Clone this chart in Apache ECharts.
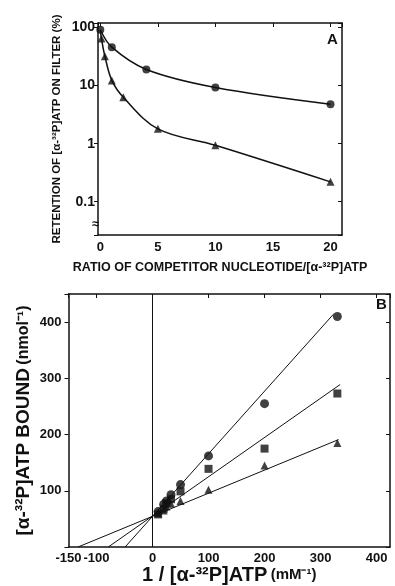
<!DOCTYPE html>
<html>
<head>
<meta charset="utf-8">
<script src="https://cdn.jsdelivr.net/npm/echarts@6/dist/echarts.min.js"></script>
<style>
  html, body { margin: 0; padding: 0; background: #fff; }
  #chart { width: 395px; height: 586px; }
</style>
</head>
<body>
<div id="chart"></div>
<script>
// panel A: retention vs competitor ratio (log scale)
const ratioCircle = [0, 1, 4, 10, 20];
const retentionCircle = [92, 46, 19, 9.3, 4.8];
const ratioTriangle = [0.1, 0.4, 1, 2, 5, 10, 20];
const retentionTriangle = [65, 32, 12.3, 6.3, 1.8, 0.94, 0.22];
const curveTriangleX = [0, 0.1, 0.4, 1, 2, 5, 10, 20];
const curveTriangleY = [90, 65, 32, 12.3, 6.3, 1.8, 0.94, 0.22];

// panel B: double reciprocal plot
const invAtp = [10, 20, 25, 33, 50, 100, 200, 330];
const boundCircle = [63, 76, 82, 93, 111, 162, 255, 410];
const boundSquare = [58, 68, 78, 85, 99, 139, 175, 273];
const boundTriangle = [60, 65, 72, 77, 82, 102, 145, 185];
const fitCircleX = [-49, 323], fitCircleY = [0, 414];
const fitSquareX = [-79, 335], fitSquareY = [0, 289];
const fitTriangleX = [-133, 332], fitTriangleY = [0, 191];

const zip = (xs, ys) => xs.map((x, i) => [x, ys[i]]);

const font = "'Liberation Sans', Arial, sans-serif";
const black = '#111';
const axisLine = { show: true, onZero: false, lineStyle: { color: black, width: 1.5 } };
const tickLabel = { color: black, fontFamily: font, fontWeight: 'bold', fontSize: 13, hideOverlap: false };
const innerTick = { show: true, inside: true, length: 4, lineStyle: { color: black } };
const outerTick = { show: true, length: 4, lineStyle: { color: black } };

const chart = echarts.init(document.getElementById('chart'), null, { renderer: 'canvas' });

chart.setOption({
  backgroundColor: '#fff',
  animation: false,
  title: [
    { text: 'A', left: 322, top: 27, textStyle: { fontFamily: font, fontWeight: 'bold', fontSize: 15, color: black } },
    { text: 'B', left: 371, top: 292, textStyle: { fontFamily: font, fontWeight: 'bold', fontSize: 15, color: black } },
  ],
  grid: [
    { left: 98, top: 23, width: 244, height: 212 },
    { left: 68.5, top: 294, width: 321.5, height: 253 },
  ],
  xAxis: [
    {
      gridIndex: 0, type: 'value', min: -0.2, max: 21,
      axisLine, axisTick: { show: false }, splitLine: { show: false },
      axisLabel: { ...tickLabel, margin: 6, formatter: v => (Math.abs(v % 5) < 1e-6 ? String(v) : '') },
      name: 'RATIO OF COMPETITOR NUCLEOTIDE/[α-³²P]ATP',
      nameLocation: 'middle', nameGap: 26, nameMoveOverlap: false,
      nameTextStyle: { color: black, fontFamily: font, fontWeight: 'bold', fontSize: 12.5 },
    },
    {
      gridIndex: 0, type: 'value', min: -0.2, max: 21, position: 'top',
      axisLine, axisTick: innerTick, axisLabel: { show: false }, splitLine: { show: false },
    },
    {
      gridIndex: 1, type: 'value', min: -150, max: 424,
      axisLine, axisTick: { show: false }, splitLine: { show: false },
      axisLabel: { ...tickLabel, margin: 5, showMinLabel: true, showMaxLabel: false,
        formatter: v => (v % 50 === 0 ? String(v) : '') },
      name: '{a|1 / [α-³²P]ATP} {b|(mM⁻¹)}',
      nameLocation: 'middle', nameGap: 18, nameMoveOverlap: false,
      nameTextStyle: {
        color: black,
        rich: {
          a: { fontFamily: font, fontWeight: 'bold', fontSize: 20, color: black },
          b: { fontFamily: font, fontWeight: 'bold', fontSize: 15, color: black },
        },
      },
    },
    {
      gridIndex: 1, type: 'value', min: -150, max: 424, position: 'top',
      axisLine, axisTick: innerTick, axisLabel: { show: false }, splitLine: { show: false },
    },
  ],
  yAxis: [
    {
      gridIndex: 0, type: 'log', logBase: 10, min: 0.0267, max: 120,
      axisLine, axisTick: outerTick, splitLine: { show: false },
      axisLabel: {
        ...tickLabel, fontSize: 14, margin: 3,
        formatter: v => {
          const p = Math.log10(v);
          return Math.abs(p - Math.round(p)) < 1e-6 ? String(Math.pow(10, Math.round(p))) : '';
        },
      },
      name: 'RETENTION OF [α-³²P]ATP ON FILTER (%)',
      nameLocation: 'middle', nameGap: 35, nameMoveOverlap: false,
      nameTextStyle: { color: black, fontFamily: font, fontWeight: 'bold', fontSize: 11.5 },
    },
    {
      gridIndex: 0, type: 'log', logBase: 10, min: 0.0267, max: 120, position: 'right',
      axisLine, axisTick: innerTick, axisLabel: { show: false }, splitLine: { show: false },
    },
    {
      gridIndex: 1, type: 'value', min: 0, max: 450,
      axisLine, axisTick: outerTick, splitLine: { show: false },
      axisLabel: { ...tickLabel, margin: 7, formatter: v => (v > 0 && v % 100 === 0 ? String(v) : '') },
      name: '{a|[α-³²P]ATP BOUND} {b|(nmol⁻¹)}',
      nameLocation: 'middle', nameGap: 35, nameMoveOverlap: false,
      nameTextStyle: {
        color: black,
        rich: {
          a: { fontFamily: font, fontWeight: 'bold', fontSize: 19, color: black },
          b: { fontFamily: font, fontWeight: 'bold', fontSize: 16, color: black },
        },
      },
    },
    {
      gridIndex: 1, type: 'value', min: 0, max: 450, position: 'right',
      axisLine, axisTick: innerTick, axisLabel: { show: false }, splitLine: { show: false },
    },
  ],
  graphic: [
    { type: 'text', left: 92, top: 218, style: { text: '≈', fontSize: 13, fontWeight: 'bold', fill: black } },
  ],
  series: [
    {
      type: 'line', xAxisIndex: 0, yAxisIndex: 0, data: zip(ratioCircle, retentionCircle),
      smooth: 0.35, showSymbol: false, lineStyle: { color: black, width: 1.5 },
    },
    {
      type: 'line', xAxisIndex: 0, yAxisIndex: 0, data: zip(curveTriangleX, curveTriangleY),
      smooth: 0.35, showSymbol: false, lineStyle: { color: black, width: 1.5 },
    },
    {
      type: 'scatter', xAxisIndex: 0, yAxisIndex: 0, data: zip(ratioCircle, retentionCircle),
      symbol: 'circle', symbolSize: 8, itemStyle: { color: black },
    },
    {
      type: 'scatter', xAxisIndex: 0, yAxisIndex: 0, data: zip(ratioTriangle, retentionTriangle),
      symbol: 'triangle', symbolSize: 8, itemStyle: { color: black },
    },
    {
      type: 'line', xAxisIndex: 2, yAxisIndex: 2, data: zip(fitCircleX, fitCircleY),
      showSymbol: false, lineStyle: { color: black, width: 1 },
      markLine: {
        silent: true, symbol: 'none', label: { show: false },
        lineStyle: { color: black, width: 1, type: 'solid' },
        data: [{ xAxis: 0 }],
      },
    },
    {
      type: 'line', xAxisIndex: 2, yAxisIndex: 2, data: zip(fitSquareX, fitSquareY),
      showSymbol: false, lineStyle: { color: black, width: 1 },
    },
    {
      type: 'line', xAxisIndex: 2, yAxisIndex: 2, data: zip(fitTriangleX, fitTriangleY),
      showSymbol: false, lineStyle: { color: black, width: 1 },
    },
    {
      type: 'scatter', xAxisIndex: 2, yAxisIndex: 2, data: zip(invAtp, boundCircle),
      symbol: 'circle', symbolSize: 9, itemStyle: { color: black },
    },
    {
      type: 'scatter', xAxisIndex: 2, yAxisIndex: 2, data: zip(invAtp, boundSquare),
      symbol: 'rect', symbolSize: 8, itemStyle: { color: black },
    },
    {
      type: 'scatter', xAxisIndex: 2, yAxisIndex: 2, data: zip(invAtp, boundTriangle),
      symbol: 'triangle', symbolSize: 8, itemStyle: { color: black },
    },
  ],
});
</script>
</body>
</html>
